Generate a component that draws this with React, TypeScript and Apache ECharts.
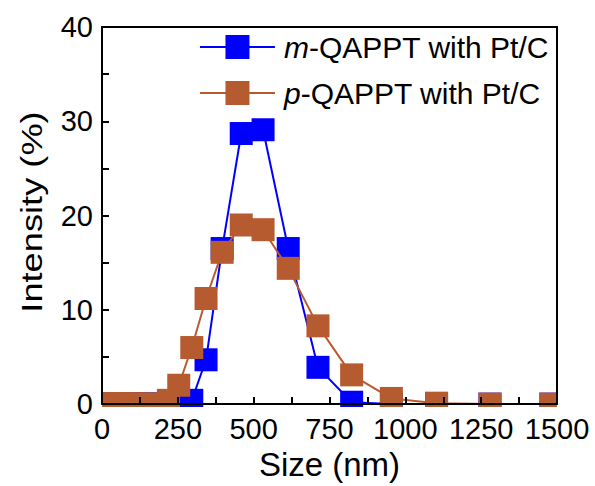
import React, { useEffect, useRef } from "react";
import * as echarts from "echarts";

// Particle size bins (nm)
const sizeNm = [18, 21, 24, 28, 33, 38, 44, 50, 58, 68, 78, 91, 105, 121, 140, 163, 188, 219, 253, 296, 343, 396, 459, 531, 614, 712, 823, 954, 1103, 1279, 1480];
// Intensity (%) for m-QAPPT with Pt/C
const mQappt = [0, 0, 0, 0, 0, 0, 0, 0, 0, 0, 0, 0, 0, 0, 0, 0, 0, 0, 0, 0.4, 4.7, 16.5, 28.7, 29.1, 16.5, 3.9, 0.2, 0, 0, 0, 0];
// Intensity (%) for p-QAPPT with Pt/C
const pQappt = [0, 0, 0, 0, 0, 0, 0, 0, 0, 0, 0, 0, 0, 0, 0, 0, 0, 0.4, 2.0, 6.0, 11.2, 16.1, 19.0, 18.5, 14.4, 8.3, 3.1, 0.6, 0.1, 0, 0];

const seriesNames = ["m-QAPPT with Pt/C", "p-QAPPT with Pt/C"];
const seriesColors = ["#0000FF", "#B65B30"];
const xAxisName = "Size (nm)";
const yAxisName = "Intensity (%)";

const FONT = '"Liberation Sans", Arial, sans-serif';

export default function App() {
  const ref = useRef<HTMLDivElement>(null);
  useEffect(() => {
    if (!ref.current) return;
    const chart = echarts.init(ref.current, null, { renderer: "svg" });
    const grid = { left: 102, right: 38, top: 27, bottom: 79 };
    const mkSeries = (name: string, vals: number[], color: string, z: number) => ({
      name,
      type: "line",
      data: sizeNm.map((s, i) => [s, vals[i]]),
      symbol: "rect",
      symbolSize: 23,
      z,
      lineStyle: { color, width: 2 },
      itemStyle: { color },
      clip: true,
    });
    chart.setOption({
      animation: false,
      backgroundColor: "#ffffff",
      grid: { ...grid, show: false },
      legend: {
        orient: "vertical",
        right: 46,
        top: 32,
        padding: 0,
        itemWidth: 75,
        itemHeight: 30,
        itemGap: 16,
        align: "left",
        data: seriesNames,
        textStyle: {
          fontSize: 30,
          fontFamily: FONT,
          color: "#000",
          rich: {
            i: { fontSize: 30, fontFamily: FONT, fontStyle: "italic", color: "#000", padding: [0, 0, 0, 4] },
            n: { fontSize: 30, fontFamily: FONT, color: "#000" },
          },
        },
        formatter: (name: string) => `{i|${name[0]}}{n|${name.slice(1)}}`,
      },
      xAxis: [
        {
          type: "value",
          min: 0,
          max: 1500,
          interval: 250,
          z: 10,
          name: xAxisName,
          nameLocation: "middle",
          nameGap: 37,
          nameTextStyle: { fontSize: 33, fontFamily: FONT, color: "#000" },
          axisLine: { show: true, onZero: false, lineStyle: { color: "#000", width: 2 } },
          axisTick: { show: true, inside: true, length: 7, lineStyle: { color: "#000", width: 2 } },
          minorTick: { show: true, splitNumber: 2, length: 7, lineStyle: { color: "#000", width: 2 } },
          axisLabel: {
            fontSize: 29,
            fontFamily: FONT,
            color: "#000",
            margin: 10,
            formatter: (v: number) => String(v),
          },
          splitLine: { show: false },
        },
        {
          type: "value",
          position: "top",
          min: 0,
          max: 1500,
          z: 10,
          axisLine: { show: true, onZero: false, lineStyle: { color: "#000", width: 2 } },
          axisTick: { show: false },
          axisLabel: { show: false },
          splitLine: { show: false },
        },
      ],
      yAxis: [
        {
          type: "value",
          min: 0,
          max: 40,
          interval: 10,
          z: 10,
          axisLine: { show: true, onZero: false, lineStyle: { color: "#000", width: 2 } },
          axisTick: { show: true, inside: true, length: 7, lineStyle: { color: "#000", width: 2 } },
          minorTick: { show: true, splitNumber: 2, length: 7, lineStyle: { color: "#000", width: 2 } },
          axisLabel: { fontSize: 29, fontFamily: FONT, color: "#000", margin: 9 },
          splitLine: { show: false },
        },
        {
          type: "value",
          position: "right",
          min: 0,
          max: 40,
          z: 10,
          axisLine: { show: true, onZero: false, lineStyle: { color: "#000", width: 2 } },
          axisTick: { show: false },
          axisLabel: { show: false },
          splitLine: { show: false },
        },
      ],
      graphic: [
        // white masks that clip the square markers to the plot frame
        { type: "rect", z: 5, silent: true, shape: { x: 60, y: 407, width: 530, height: 14 }, style: { fill: "#fff" } },
        { type: "rect", z: 5, silent: true, shape: { x: 60, y: 370, width: 42, height: 50 }, style: { fill: "#fff" } },
        { type: "rect", z: 5, silent: true, shape: { x: 557, y: 370, width: 38, height: 50 }, style: { fill: "#fff" } },
        {
          type: "text",
          z: 10,
          x: 32,
          y: 212,
          rotation: Math.PI / 2,
          scaleX: 1.25,
          style: {
            text: yAxisName,
            font: `29px ${FONT}`,
            fill: "#000",
            textAlign: "center",
            textVerticalAlign: "middle",
          },
        },
      ],
      series: [
        mkSeries(seriesNames[0], mQappt, seriesColors[0], 2),
        mkSeries(seriesNames[1], pQappt, seriesColors[1], 3),
      ],
    });
    return () => chart.dispose();
  }, []);
  return (
    <div
      ref={ref}
      style={{ position: "fixed", left: 0, top: 0, width: 595, height: 486, background: "#fff" }}
    />
  );
}
